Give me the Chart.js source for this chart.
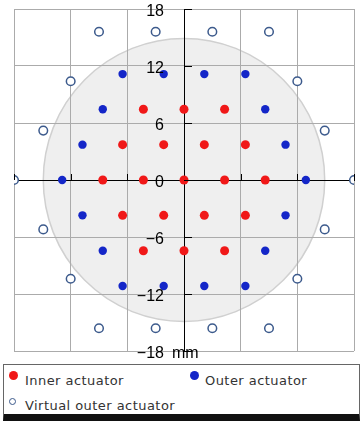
<!DOCTYPE html>
<html>
<head>
<meta charset="utf-8">
<script src="https://cdn.jsdelivr.net/npm/chart.js@4.4.1/dist/chart.umd.min.js"></script>
<style>
  html, body { margin: 0; padding: 0; background: #fff; }
  #wrap { position: relative; width: 361px; height: 421px; overflow: hidden; }
  #chartBox { position: absolute; left: 0; top: 0; width: 361px; height: 362px; }
  #legend { position: absolute; left: 3px; top: 364px; width: 355px; height: 49px;
            border: 1px solid #666; border-bottom: 7px solid #111; background: #fff;
            font-family: "DejaVu Sans", sans-serif; font-size: 13px; letter-spacing: 0.45px; color: #333; }
  .item { position: absolute; white-space: nowrap; line-height: 15px; }
  .mark { position: absolute; border-radius: 50%; box-sizing: border-box; }
</style>
</head>
<body>
<div id="wrap">
  <div id="chartBox"><canvas id="c"></canvas></div>
  <div id="legend"></div>
</div>
<script>
// ---- data (mm) ----
const seriesNames = ['Inner actuator', 'Outer actuator', 'Virtual outer actuator'];

const innerX = [-8.6, -4.3, 0, 4.3, 8.6,
                -6.5, -2.15, 2.15, 6.5,
                -6.5, -2.15, 2.15, 6.5,
                -4.3, 0, 4.3,
                -4.3, 0, 4.3];
const innerY = [0, 0, 0, 0, 0,
                3.72, 3.72, 3.72, 3.72,
                -3.72, -3.72, -3.72, -3.72,
                7.45, 7.45, 7.45,
                -7.45, -7.45, -7.45];

const outerX = [-12.9, 12.9,
                -10.75, 10.75, -10.75, 10.75,
                -8.6, 8.6, -8.6, 8.6,
                -6.5, -2.15, 2.15, 6.5,
                -6.5, -2.15, 2.15, 6.5];
const outerY = [0, 0,
                3.72, 3.72, -3.72, -3.72,
                7.45, 7.45, -7.45, -7.45,
                11.15, 11.15, 11.15, 11.15,
                -11.15, -11.15, -11.15, -11.15];

const virtualX = [-18, 18,
                  -14.9, 14.9, -14.9, 14.9,
                  -12, 12, -12, 12,
                  -9, -3, 3, 9,
                  -9, -3, 3, 9];
const virtualY = [0, 0,
                  5.2, 5.2, -5.2, -5.2,
                  10.4, 10.4, -10.4, -10.4,
                  15.6, 15.6, 15.6, 15.6,
                  -15.6, -15.6, -15.6, -15.6];

const yTickValues = [18, 12, 6, 0, -6, -12, -18];
const yTickLabels = ['18', '12', '6', '0', '\u22126', '\u221212', '\u221218'];
const axisUnit = 'mm';
const waferRadius = 14.9;
const axisMin = -18, axisMax = 18, gridStep = 6;

function pts(xs, ys) { return xs.map((x, i) => ({ x: x, y: ys[i] })); }

// ---- plugins ----
const waferPlugin = {
  id: 'wafer',
  beforeDraw(chart) {
    const { ctx, scales: { x, y } } = chart;
    const cx = x.getPixelForValue(0), cy = y.getPixelForValue(0);
    const rx = Math.abs(x.getPixelForValue(waferRadius) - cx);
    const ry = Math.abs(y.getPixelForValue(waferRadius) - cy);
    ctx.save();
    ctx.beginPath();
    ctx.ellipse(cx, cy, rx, ry, 0, 0, Math.PI * 2);
    ctx.fillStyle = '#efefef';
    ctx.fill();
    ctx.lineWidth = 1.5;
    ctx.strokeStyle = '#d0d0d0';
    ctx.stroke();
    ctx.restore();
  }
};

const axisExtras = {
  id: 'axisExtras',
  afterDatasetsDraw(chart) {
    const { ctx, scales: { x, y } } = chart;
    const ax = x.getPixelForValue(0), ay = y.getPixelForValue(0);
    ctx.save();
    ctx.strokeStyle = '#000';
    ctx.lineWidth = 1;
    y.ticks.forEach(t => {
      const py = Math.round(y.getPixelForValue(t.value)) + 0.5;
      ctx.beginPath(); ctx.moveTo(ax, py); ctx.lineTo(ax + 8, py); ctx.stroke();
    });
    x.ticks.forEach(t => {
      if (t.value === 0) return;
      const px = Math.round(x.getPixelForValue(t.value)) + 0.5;
      ctx.beginPath(); ctx.moveTo(px, ay); ctx.lineTo(px, ay - 6); ctx.stroke();
    });
    ctx.fillStyle = '#000';
    ctx.font = '16px "Liberation Sans", Arial, sans-serif';
    ctx.textAlign = 'right';
    ctx.textBaseline = 'middle';
    yTickValues.forEach((v, i) => {
      ctx.fillText(yTickLabels[i], ax - 20, y.getPixelForValue(v) + 3);
    });
    ctx.textAlign = 'left';
    ctx.fillText(axisUnit, ax - 12, y.getPixelForValue(axisMin) + 3);
    ctx.restore();
  }
};

const htmlLegend = {
  id: 'htmlLegend',
  afterUpdate(chart) {
    const box = document.getElementById('legend');
    box.innerHTML = '';
    const slots = [
      { left: 21, top: 8, mx: 5, my: 6, r: 4 },
      { left: 201, top: 8, mx: 186, my: 6, r: 4 },
      { left: 21, top: 33, mx: 5, my: 33, r: 3 }
    ];
    chart.data.datasets.forEach((ds, i) => {
      const s = slots[i];
      const item = document.createElement('div');
      item.className = 'item';
      item.style.left = s.left + 'px';
      item.style.top = s.top + 'px';
      item.textContent = ds.label;
      box.appendChild(item);
      const m = document.createElement('div');
      m.className = 'mark';
      m.style.left = s.mx + 'px';
      m.style.top = s.my + 'px';
      m.style.width = (2 * s.r + 1) + 'px';
      m.style.height = (2 * s.r + 1) + 'px';
      m.style.background = ds.backgroundColor;
      m.style.border = ds.backgroundColor === '#ffffff' ? '1.5px solid ' + ds.borderColor : 'none';
      box.appendChild(m);
    });
  }
};

new Chart(document.getElementById('c'), {
  type: 'scatter',
  data: {
    datasets: [
      { label: seriesNames[0], data: pts(innerX, innerY), backgroundColor: '#f01818',
        borderColor: '#f01818', pointRadius: 4.5, pointBorderWidth: 0 },
      { label: seriesNames[1], data: pts(outerX, outerY), backgroundColor: '#1426c8',
        borderColor: '#1426c8', pointRadius: 4.2, pointBorderWidth: 0 },
      { label: seriesNames[2], data: pts(virtualX, virtualY), backgroundColor: '#ffffff',
        borderColor: '#3c5a8c', pointRadius: 4.3, pointBorderWidth: 1.5 }
    ]
  },
  options: {
    responsive: true,
    maintainAspectRatio: false,
    animation: false,
    events: [],
    layout: { padding: { left: 14, right: 7, top: 9, bottom: 11 } },
    plugins: { legend: { display: false }, tooltip: { enabled: false } },
    scales: {
      x: {
        type: 'linear', min: axisMin, max: axisMax,
        position: { y: 0 },
        ticks: { stepSize: gridStep, display: false },
        grid: { color: '#ababab', drawTicks: false, lineWidth: 1 },
        border: { display: true, color: '#000', width: 1 }
      },
      y: {
        type: 'linear', min: axisMin, max: axisMax,
        position: { x: 0 },
        ticks: { stepSize: gridStep, display: false },
        grid: { color: '#ababab', drawTicks: false, lineWidth: 1 },
        border: { display: true, color: '#000', width: 1 }
      }
    }
  },
  plugins: [waferPlugin, axisExtras, htmlLegend]
});
</script>
</body>
</html>
